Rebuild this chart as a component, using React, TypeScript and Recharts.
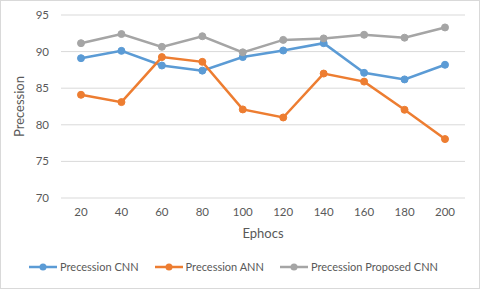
import React from 'react';
import { LineChart, Line, XAxis, YAxis, CartesianGrid, Legend, Label } from 'recharts';

const epochs = ['20', '40', '60', '80', '100', '120', '140', '160', '180', '200'];
const cnn = [89.1, 90.1, 88.1, 87.4, 89.25, 90.15, 91.15, 87.1, 86.2, 88.2];
const ann = [84.1, 83.1, 89.25, 88.6, 82.1, 81.0, 87.0, 85.9, 82.05, 78.05];
const proposed = [91.15, 92.4, 90.65, 92.1, 89.9, 91.6, 91.8, 92.3, 91.9, 93.3];
const yTicks = [70, 75, 80, 85, 90, 95];

const SERIES = [
    { key: 'cnn', name: 'Precession CNN', color: '#5B9BD5' },
    { key: 'ann', name: 'Precession ANN', color: '#ED7D31' },
    { key: 'proposed', name: 'Precession Proposed CNN', color: '#A5A5A5' },
];

const data = epochs.map((e, i) => ({ epoch: e, cnn: cnn[i], ann: ann[i], proposed: proposed[i] }));

const FONT = 'Lato, "Open Sans", sans-serif';
const TEXT = '#595959';

function ChartLegend() {
    return (
        <div style={{ display: 'flex', justifyContent: 'center', gap: 15, paddingTop: 6, fontFamily: FONT, fontSize: 11, color: TEXT }}>
            {SERIES.map((s) => (
                <div key={s.key} style={{ display: 'flex', alignItems: 'center' }}>
                    <svg width={30} height={10} style={{ marginRight: 2 }}>
                        <line x1={1} y1={5} x2={29} y2={5} stroke={s.color} strokeWidth={2.5} />
                        <circle cx={15} cy={5} r={3.5} fill={s.color} />
                    </svg>
                    <span>{s.name}</span>
                </div>
            ))}
        </div>
    );
}

export default function App() {
    return (
        <div style={{ position: 'absolute', left: 0, top: 0, width: 478, height: 287, border: '1px solid #d9d9d9', background: '#fff' }}>
            <LineChart width={478} height={287} data={data} margin={{ top: 14, right: 14, bottom: 0, left: 0 }}>
                <CartesianGrid vertical={false} stroke="#d9d9d9" />
                <XAxis
                    dataKey="epoch"
                    axisLine={false}
                    tickLine={false}
                    tickMargin={4}
                    height={56}
                    padding={{ left: 20, right: 20 }}
                    tick={{ fill: TEXT, fontSize: 11.5, fontFamily: FONT }}
                >
                    <Label value="Ephocs" position="insideTop" offset={31} style={{ fill: TEXT, fontSize: 13, fontFamily: FONT }} />
                </XAxis>
                <YAxis
                    domain={[70, 95]}
                    ticks={yTicks}
                    axisLine={false}
                    tickLine={false}
                    tickMargin={6}
                    width={60}
                    tick={{ fill: TEXT, fontSize: 11.5, fontFamily: FONT }}
                >
                    <Label value="Precession" angle={-90} position="insideLeft" offset={18} style={{ fill: TEXT, fontSize: 13, fontFamily: FONT, textAnchor: 'middle' }} />
                </YAxis>
                <Legend verticalAlign="bottom" height={34} content={() => <ChartLegend />} />
                {SERIES.map((s) => (
                    <Line
                        key={s.key}
                        type="linear"
                        dataKey={s.key}
                        name={s.name}
                        stroke={s.color}
                        strokeWidth={2.5}
                        dot={{ r: 3.5, fill: s.color, stroke: s.color, strokeWidth: 1 }}
                        isAnimationActive={false}
                    />
                ))}
            </LineChart>
        </div>
    );
}
